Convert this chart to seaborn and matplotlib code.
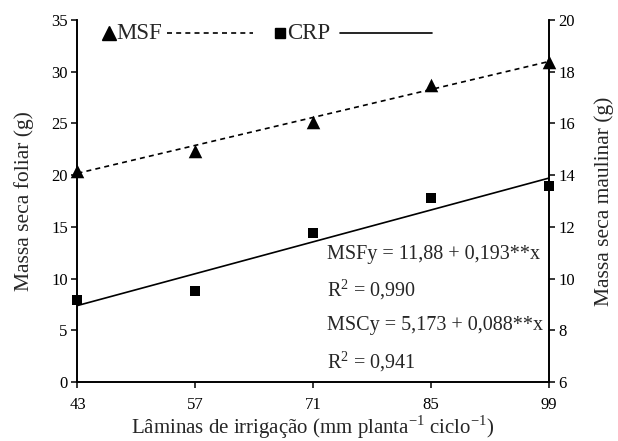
import matplotlib
matplotlib.use("Agg")
import matplotlib.pyplot as plt
import seaborn as sns
import numpy as np
import pandas as pd

# ---- data ----
laminas = [43, 57, 71, 85, 99]
msf = [20.4, 22.3, 25.1, 28.7, 30.9]          # left axis (g)
crp = [9.19, 9.52, 11.78, 13.12, 13.59]       # right axis (g)
msf_coef = (11.88, 0.193)
crp_coef = (5.173, 0.088)
left_ticks = [0, 5, 10, 15, 20, 25, 30, 35]
right_ticks = [6, 8, 10, 12, 14, 16, 18, 20]

sns.set_theme(style="ticks")
plt.rcParams['font.family'] = ['Liberation Serif', 'DejaVu Serif']
plt.rcParams['mathtext.fontset'] = 'custom'
plt.rcParams['mathtext.rm'] = 'Liberation Serif'

df = pd.DataFrame({"x": laminas, "msf": msf, "crp": crp})
df["msf_fit"] = msf_coef[0] + msf_coef[1] * df["x"]
df["crp_fit"] = crp_coef[0] + crp_coef[1] * df["x"]

fig = plt.figure(figsize=(6.18, 4.41), dpi=100)
ax = fig.add_axes([0.1254, 0.1338, 0.888 - 0.1254, 0.9546 - 0.1338])
ax2 = ax.twinx()

lw = 1.2
sns.lineplot(data=df, x="x", y="msf_fit", ax=ax, color="black", lw=lw,
             linestyle=(0, (3, 2.5)))
sns.scatterplot(data=df, x="x", y="msf", ax=ax, marker="^", color="black",
                s=95, edgecolor="black", linewidth=0, zorder=5, clip_on=False)
sns.lineplot(data=df, x="x", y="crp_fit", ax=ax2, color="black", lw=lw)
sns.scatterplot(data=df, x="x", y="crp", ax=ax2, marker="s", color="black",
                s=55, edgecolor="black", linewidth=0, zorder=5, clip_on=False)

ax.set_xlim(43, 99)
ax.set_ylim(0, 35)
ax2.set_ylim(6, 20)
ax.set_xticks(laminas)
ax.set_yticks(left_ticks)
ax2.set_yticks(right_ticks)

for a in (ax, ax2):
    a.spines['top'].set_visible(False)
    for s in a.spines.values():
        s.set_linewidth(1.2)
        s.set_color('black')
    a.tick_params(axis='both', direction='out', length=4, width=1.1,
                  labelsize=12, colors='black', pad=3)
    a.set_facecolor('none')
ax.tick_params(axis='x', pad=7)

ax.set_xlabel("Lâminas de irrigação (mm planta$^{\\mathregular{-1}}$ ciclo$^{\\mathregular{-1}}$)",
              fontsize=15, labelpad=0)
ax.set_ylabel("Massa seca foliar (g)", fontsize=15.5, labelpad=12)
ax2.set_ylabel("Massa seca maulinar (g)", fontsize=15.5, labelpad=14)

# legend (manual, as in reference)
ly = 0.964
ax.plot([0.066], [ly], marker="^", color="black", ms=10, transform=ax.transAxes, clip_on=False)
ax.text(0.082, ly, "MSF", transform=ax.transAxes, fontsize=16.5, va="center", ha="left")
ax.plot([0.190, 0.372], [ly, ly], color="black", lw=lw, linestyle=(0, (3, 2.5)),
        transform=ax.transAxes)
ax.plot([0.4295], [ly], marker="s", color="black", ms=7, transform=ax.transAxes)
ax.text(0.4455, ly, "CRP", transform=ax.transAxes, fontsize=16.5, va="center", ha="left")
ax.plot([0.557, 0.752], [ly, ly], color="black", lw=lw, transform=ax.transAxes)

# equations
eqs = ["MSFy = 11,88 + 0,193**x",
       "R$^{\\mathregular{2}}$ = 0,990",
       "MSCy = 5,173 + 0,088**x",
       "R$^{\\mathregular{2}}$ = 0,941"]
ys = [0.351, 0.254, 0.157, 0.057]
for t, y in zip(eqs, ys):
    ax.text(0.53, y, t, transform=ax.transAxes, fontsize=14.5, va="center", ha="left")

fig.savefig("out.png", dpi=100)
